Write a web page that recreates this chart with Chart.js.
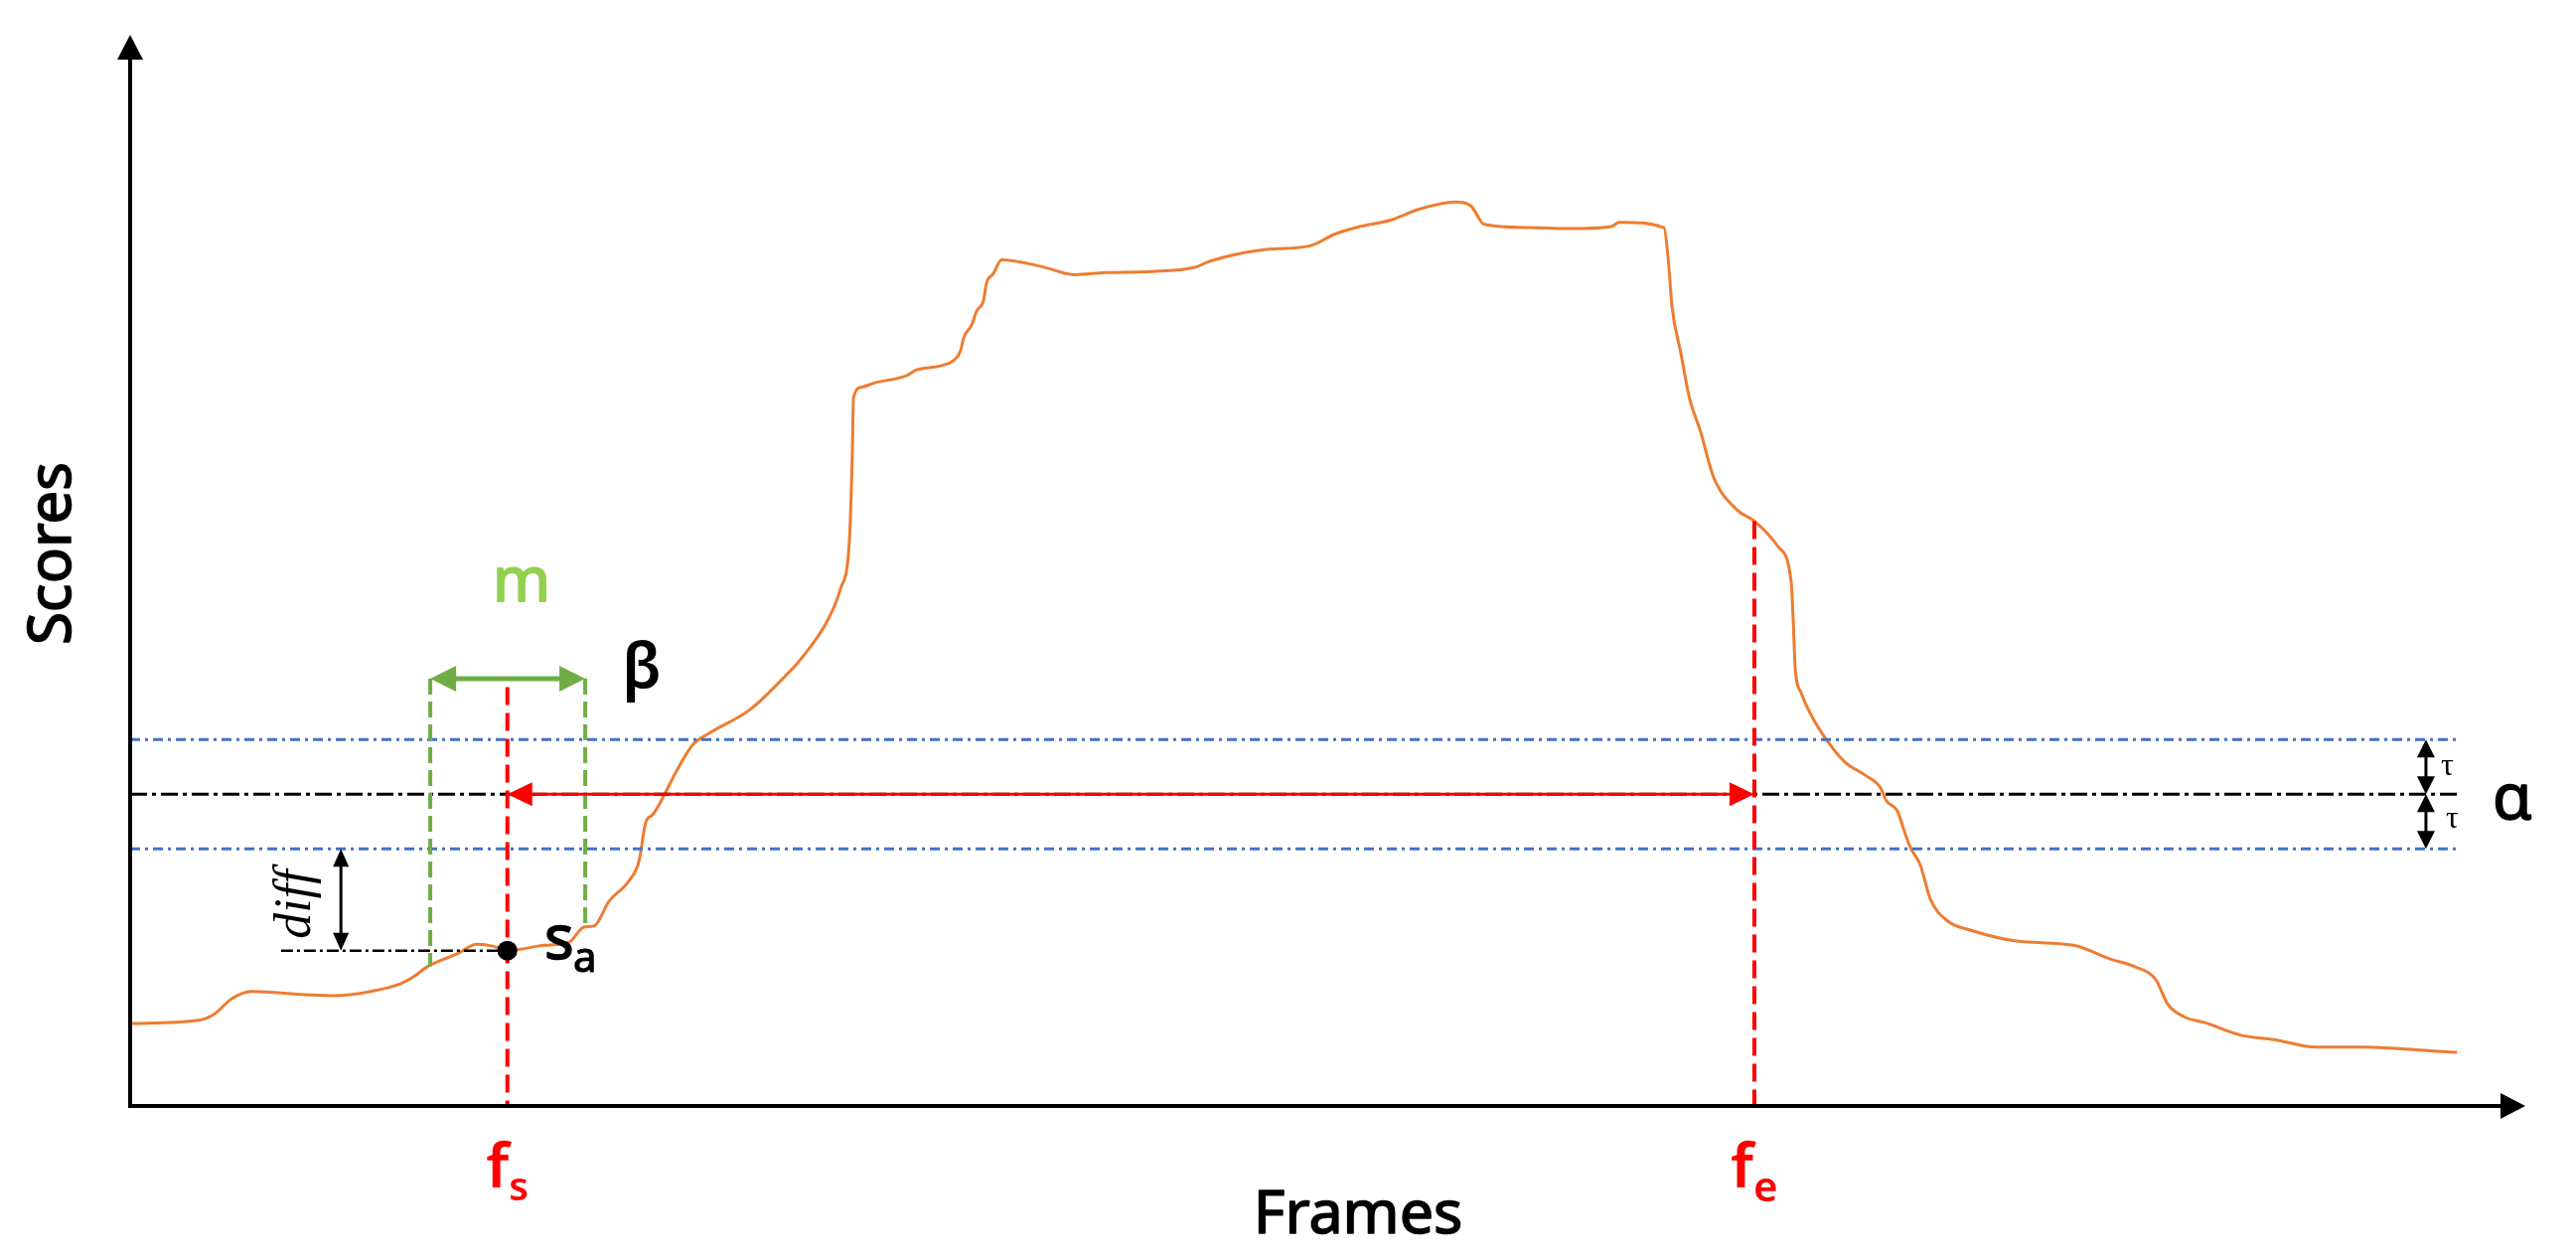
<!DOCTYPE html>
<html lang="en">
<head>
<meta charset="UTF-8">
<title>Scores over frames</title>
<script src="https://cdn.jsdelivr.net/npm/chart.js"></script>
<style>
  html, body { margin: 0; padding: 0; background: #fff; }
  canvas { display: block; }
</style>
</head>
<body>
<canvas id="chart" width="2593" height="1266"></canvas>
<script>
// score curve (frames 0..1000, scores 0..1)
const frames = [0, 28.6, 35.3, 42.3, 50.6, 73.0, 85.4, 100.4, 112.8, 118.6, 124.0, 136.5, 144.8, 151.8, 157.2,
  173.0, 183.3, 189.5, 193.7, 199.9, 208.2, 212.4, 215.3, 218.2, 223.6, 227.7, 234.8, 241.8, 258.8, 272.5,
  279.6, 291.6, 296.6, 300.3, 301.5, 302.0, 305.3, 310.7, 324.3, 328.1, 338.4, 343.8, 346.7, 348.0, 351.3,
  353.4, 356.3, 357.5, 360.4, 363.8, 379.9, 394.4, 407.3, 426.8, 444.6, 451.3, 472.0, 492.7, 503.1, 513.5,
  526.3, 537.9, 553.3, 559.9, 565.3, 584.0, 601.0, 618.4, 621.7, 640.4, 642.1, 643.7, 647.5, 650.8, 655.7,
  661.1, 671.1, 678.1, 688.1, 693.5, 694.3, 695.2, 697.6, 701.8, 708.8, 715.9, 724.2, 730.8, 732.9, 737.9,
  740.8, 743.3, 747.4, 751.6, 758.6, 768.6, 787.6, 811.3, 827.0, 837.0, 845.7, 850.7, 857.7, 866.0, 881.4,
  895.1, 912.5, 932.8, 963.5, 971.4];
const scores = [0.077, 0.080, 0.086, 0.100, 0.107, 0.104, 0.103, 0.107, 0.114, 0.121, 0.130, 0.142, 0.151, 0.149, 0.145,
  0.150, 0.153, 0.167, 0.168, 0.191, 0.210, 0.228, 0.265, 0.272, 0.293, 0.311, 0.337, 0.348, 0.370, 0.399,
  0.416, 0.455, 0.483, 0.528, 0.608, 0.661, 0.671, 0.675, 0.682, 0.687, 0.691, 0.696, 0.705, 0.717, 0.729,
  0.742, 0.752, 0.768, 0.777, 0.790, 0.784, 0.776, 0.778, 0.779, 0.783, 0.789, 0.799, 0.803, 0.814, 0.821,
  0.827, 0.837, 0.844, 0.840, 0.823, 0.820, 0.819, 0.821, 0.825, 0.820, 0.792, 0.747, 0.702, 0.663, 0.629,
  0.587, 0.556, 0.546, 0.522, 0.489, 0.455, 0.408, 0.386, 0.365, 0.340, 0.321, 0.309, 0.297, 0.286, 0.275,
  0.256, 0.241, 0.225, 0.193, 0.173, 0.164, 0.154, 0.150, 0.137, 0.130, 0.118, 0.095, 0.083, 0.078, 0.066,
  0.062, 0.055, 0.055, 0.051, 0.050];

// thresholds and marked frames
const alpha = 0.291;
const tau = 0.051;
const fs = 157.5, sa = 0.145;       // start frame and its score
const fe = 678.1, feScore = 0.546;  // end frame and its score
const mEdges = [125.3, 190.0];      // window m around fs
const mEdgeScores = [0.130, 0.167];
const mLevel = 0.399;               // height of the m arrow
const fsTop = 0.391;
const diffX = 88, diffFrom = 63;
const tauX = 958.5;
const lineEnd = 972;

const seg = (x0, y0, x1, y1) => [{ x: x0, y: y0 }, { x: x1, y: y1 }];
const lineSet = (data, color, width, dash) => ({
  data, borderColor: color, borderWidth: width, borderDash: dash,
  pointRadius: 0, fill: false, tension: 0
});

function head(ctx, tx, ty, ang, len, half) {
  ctx.save();
  ctx.translate(tx, ty);
  ctx.rotate(ang);
  ctx.beginPath();
  ctx.moveTo(0, 0);
  ctx.lineTo(-len, -half);
  ctx.lineTo(-len, half);
  ctx.closePath();
  ctx.fill();
  ctx.restore();
}

// line with heads on both ends
function arrow2(ctx, x0, y0, x1, y1, color, width, len, half) {
  const ang = Math.atan2(y1 - y0, x1 - x0);
  const ux = Math.cos(ang), uy = Math.sin(ang);
  ctx.save();
  ctx.strokeStyle = color; ctx.fillStyle = color; ctx.lineWidth = width;
  ctx.beginPath();
  ctx.moveTo(x0 + ux * len * 0.8, y0 + uy * len * 0.8);
  ctx.lineTo(x1 - ux * len * 0.8, y1 - uy * len * 0.8);
  ctx.stroke();
  head(ctx, x1, y1, ang, len, half);
  head(ctx, x0, y0, ang + Math.PI, len, half);
  ctx.restore();
}

// heavy > 0 thickens the glyphs a little (medium weight look)
function text(ctx, str, x, y, font, color, align, rot, heavy) {
  ctx.save();
  ctx.font = font;
  ctx.fillStyle = color;
  ctx.textAlign = align || 'left';
  ctx.textBaseline = 'alphabetic';
  ctx.translate(x, y);
  if (rot) ctx.rotate(rot);
  ctx.fillText(str, 0, 0);
  if (heavy) {
    ctx.strokeStyle = color;
    ctx.lineWidth = heavy;
    ctx.lineJoin = 'round';
    ctx.strokeText(str, 0, 0);
  }
  ctx.restore();
}

const sans = (px, w) => (w || 400) + ' ' + px + 'px "Noto Sans"';

// main symbol with subscript, centred on cx
function subLabel(ctx, main, sub, cx, base, subBase, size, subSize, color) {
  ctx.save();
  ctx.font = sans(size, 600);
  const w1 = ctx.measureText(main).width;
  ctx.font = sans(subSize, 600);
  const w2 = ctx.measureText(sub).width;
  ctx.restore();
  const x0 = cx - (w1 + w2) / 2;
  text(ctx, main, x0, base, sans(size, 600), color);
  text(ctx, sub, x0 + w1, subBase, sans(subSize, 600), color);
}

const overlay = {
  id: 'overlay',
  afterDraw(chart) {
    const ctx = chart.ctx;
    const a = chart.chartArea;
    const X = v => chart.scales.x.getPixelForValue(v);
    const Y = v => chart.scales.y.getPixelForValue(v);

    // axes with arrow tips
    ctx.save();
    ctx.strokeStyle = '#000'; ctx.fillStyle = '#000'; ctx.lineWidth = 4;
    ctx.beginPath();
    ctx.moveTo(a.left, a.bottom + 2); ctx.lineTo(a.left, a.top + 20);
    ctx.moveTo(a.left - 2, a.bottom); ctx.lineTo(a.right - 20, a.bottom);
    ctx.stroke();
    head(ctx, a.left, a.top, -Math.PI / 2, 25, 13);
    head(ctx, a.right, a.bottom, 0, 25, 13);
    ctx.restore();

    // fs -> fe on the alpha line
    arrow2(ctx, X(fs), Y(alpha), X(fe), Y(alpha), '#FF0000', 3, 25, 12);
    // window m
    arrow2(ctx, X(mEdges[0]), Y(mLevel), X(mEdges[1]), Y(mLevel), '#70AD47', 5, 26, 13);
    // diff
    arrow2(ctx, X(diffX), Y(alpha - tau), X(diffX), Y(sa), '#000', 3, 18, 8);
    // tau brackets
    arrow2(ctx, X(tauX), Y(alpha + tau), X(tauX), Y(alpha), '#000', 3, 18, 9);
    arrow2(ctx, X(tauX), Y(alpha), X(tauX), Y(alpha - tau), '#000', 3, 18, 9);

    // labels
    text(ctx, 'Scores', a.left - 60, 557, sans(60), '#000', 'center', -Math.PI / 2, 1.6);
    text(ctx, 'Frames', 1367, 1241, sans(61), '#000', 'center', 0, 1.6);
    subLabel(ctx, 'f', 's', X(fs), 1195, 1208, 62, 40, '#FF0000');
    subLabel(ctx, 'f', 'e', X(fe), 1195, 1209, 62, 42, '#FF0000');
    text(ctx, 'm', X((mEdges[0] + mEdges[1]) / 2) + 14, 605, sans(62), '#92D050', 'center', 0, 2);
    text(ctx, 'β', 646, 692, sans(64, 600), '#000', 'center');
    text(ctx, 's', 548, 965, sans(62), '#000', 'left', 0, 1.6);
    text(ctx, 'a', 577, 978, sans(42), '#000', 'left', 0, 1.2);
    text(ctx, 'α', 2529, 824, sans(64), '#000', 'center', 0, 1.6);
    text(ctx, 'τ', 2457, 780, '32px "Liberation Serif"', '#000');
    text(ctx, 'τ', 2462, 833, '32px "Liberation Serif"', '#000');
    text(ctx, 'diff', 312, 910, 'italic 52px "Liberation Serif"', '#000', 'center', -Math.PI / 2);
  }
};

new Chart(document.getElementById('chart'), {
  type: 'line',
  data: {
    datasets: [
      { data: [{ x: fs, y: sa }], showLine: false, pointRadius: 10, pointBackgroundColor: '#000',
        pointBorderColor: '#000', pointBorderWidth: 0, order: 0 },
      Object.assign(lineSet(frames.map((f, i) => ({ x: f, y: scores[i] })), '#ED7D31', 3, []),
        { order: 5, cubicInterpolationMode: 'monotone' }),
      Object.assign(lineSet(seg(0, alpha + tau, lineEnd + 1, alpha + tau), '#4472C4', 3, [10, 5, 3, 5]), { order: 2 }),
      Object.assign(lineSet(seg(0, alpha - tau, lineEnd, alpha - tau), '#4472C4', 3, [10, 5, 3, 5]), { order: 2 }),
      Object.assign(lineSet(seg(0, alpha, lineEnd, alpha), '#000', 3, [17, 5, 4, 5]), { order: 3 }),
      Object.assign(lineSet(seg(diffFrom, sa, fs, sa), '#000', 2.5, [12, 4, 3, 4]), { order: 3 }),
      Object.assign(lineSet(seg(fs, fsTop, fs, 0), '#FF0000', 4, [18, 8]), { order: 1 }),
      Object.assign(lineSet(seg(fe, feScore, fe, 0), '#FF0000', 4, [18, 8]), { order: 1 }),
      Object.assign(lineSet(seg(mEdges[0], mLevel, mEdges[0], mEdgeScores[0]), '#70AD47', 4, [16, 7]), { order: 1 }),
      Object.assign(lineSet(seg(mEdges[1], mLevel, mEdges[1], mEdgeScores[1]), '#70AD47', 4, [16, 7]), { order: 1 })
    ]
  },
  options: {
    responsive: false,
    animation: false,
    layout: { padding: { left: 131, top: 35, right: 51, bottom: 153 } },
    scales: {
      x: { type: 'linear', min: 0, max: 1000, display: false },
      y: { min: 0, max: 1, display: false }
    },
    plugins: { legend: { display: false }, tooltip: { enabled: false } },
    elements: { line: { capBezierPoints: false } }
  },
  plugins: [overlay]
});
</script>
</body>
</html>
